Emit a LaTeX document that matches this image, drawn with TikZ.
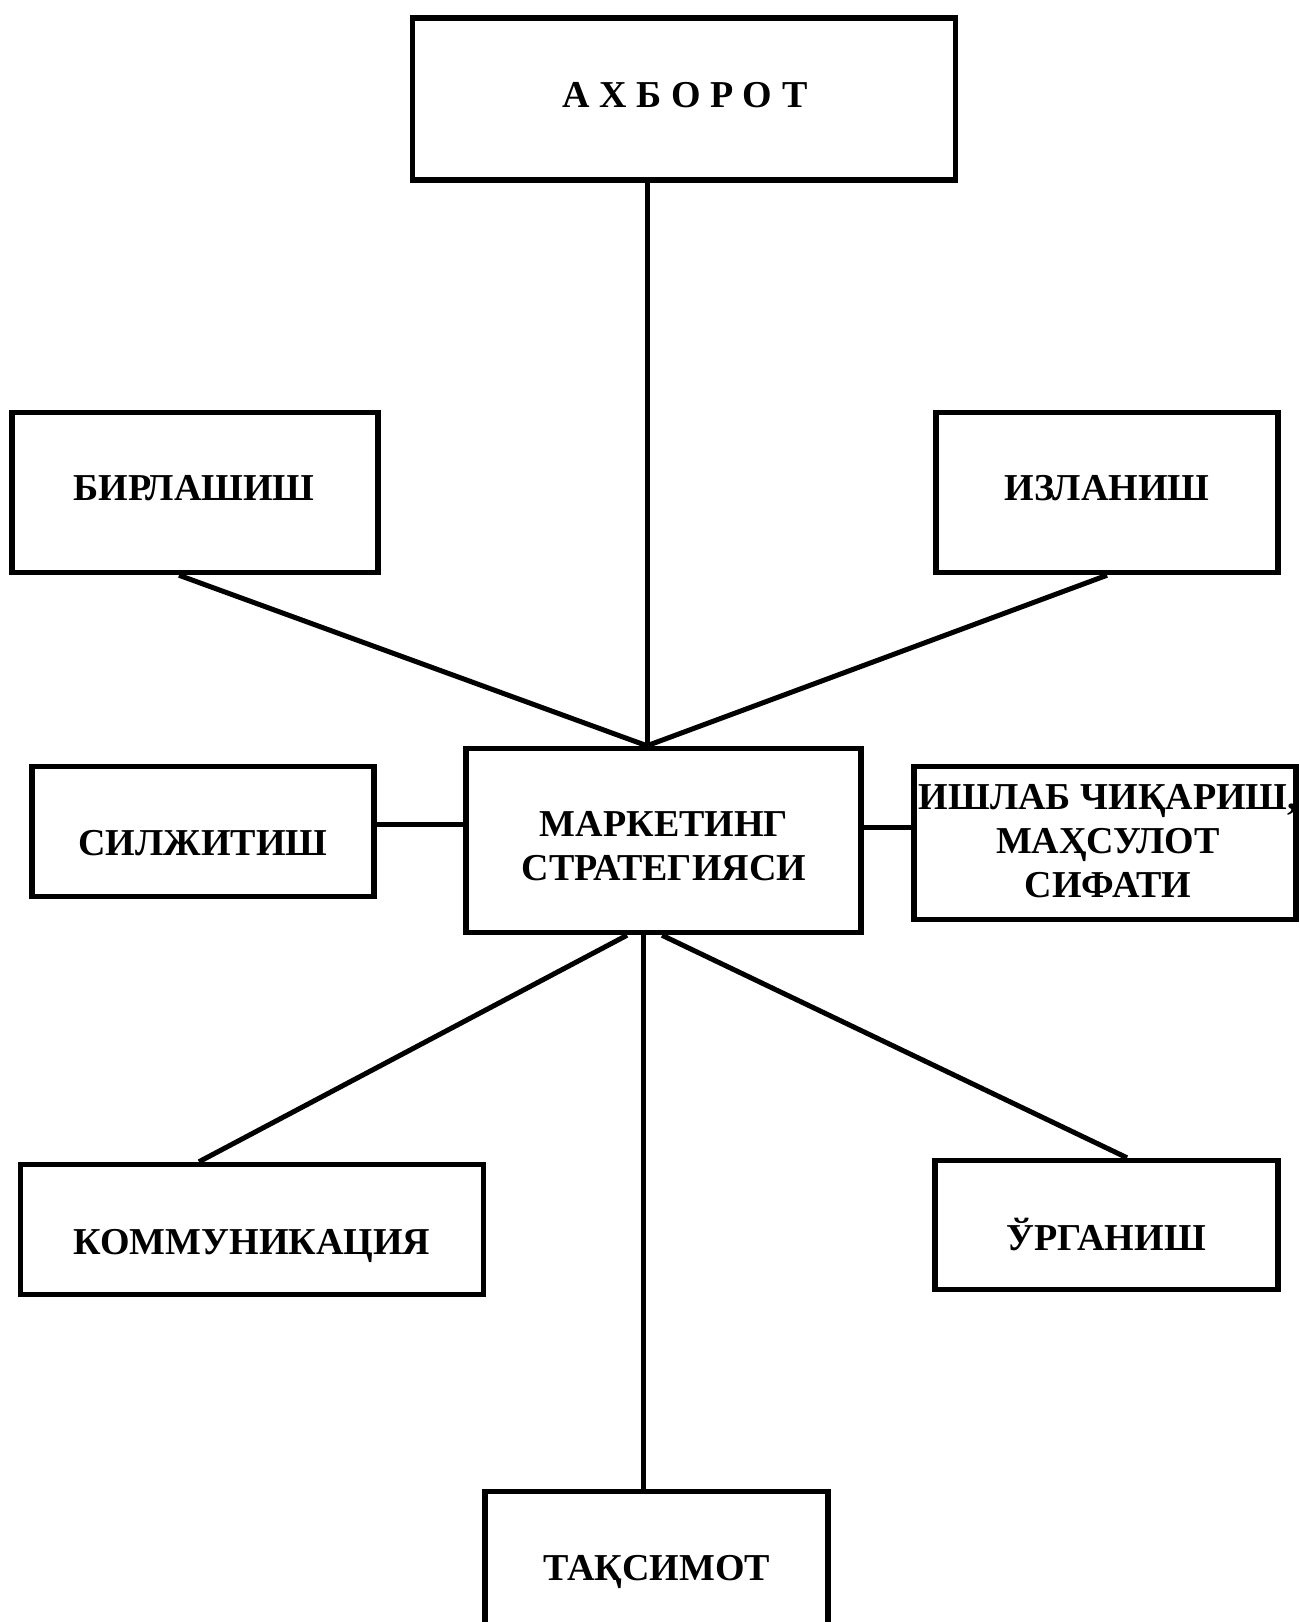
\documentclass[tikz,border=0pt]{standalone}
\usepackage{fontspec}
\setmainfont{Liberation Serif}
\usetikzlibrary{calc}
\begin{document}
\begin{tikzpicture}[x=1pt,y=-1pt,
  boxnode/.style={draw=black,line width=5.5pt,rectangle,inner sep=0pt,fill=none},
  lbl/.style={font=\fontsize{38}{44}\selectfont\bfseries,align=center,inner sep=0pt,text=black},
  conn/.style={draw=black,line width=5pt}]
\useasboundingbox (0,0) rectangle (1299,1622);
\fill[white] (0,0) rectangle (1299,1622);
\begin{scope}
\clip (0,0) rectangle (1299,1622);
% boxes
\node[boxnode,minimum width=543pt,minimum height=162pt] (ax) at (684,99) {};
\node[boxnode,minimum width=366pt,minimum height=160pt] (birl) at (195,492.5) {};
\node[boxnode,minimum width=342pt,minimum height=160pt] (izl) at (1107,492.5) {};
\node[boxnode,minimum width=395pt,minimum height=184pt] (mark) at (663.5,840.5) {};
\node[boxnode,minimum width=342pt,minimum height=130pt] (silj) at (203,831.5) {};
\node[boxnode,minimum width=382pt,minimum height=153pt] (ishl) at (1105,843) {};
\node[boxnode,minimum width=463pt,minimum height=130pt] (komm) at (252,1229.5) {};
\node[boxnode,minimum width=343pt,minimum height=129pt] (urg) at (1106.5,1225) {};
\node[boxnode,minimum width=343pt,minimum height=150pt] (taq) at (656.5,1566.5) {};
% texts
\node[lbl] (tax) at (685,95) {А Х Б О Р О Т};
\node[lbl] (tbirl) at (194,488) {БИРЛАШИШ};
\node[lbl] (tizl) at (1107,488) {ИЗЛАНИШ};
\node[lbl] (tsilj) at (203,843) {СИЛЖИТИШ};
\node[lbl] (tmark) at (664,846.5) {МАРКЕТИНГ\\СТРАТЕГИЯСИ};
\node[lbl] (tishl) at (1108,841) {ИШЛАБ ЧИҚАРИШ,\\МАҲСУЛОТ\\СИФАТИ};
\node[lbl] (tkomm) at (252,1246) {КОММУНИКАЦИЯ};
\node[lbl] (turg) at (1106,1234) {ЎРГАНИШ};
\node[lbl] (ttaq) at (657,1572) {ТАҚСИМОТ};
% connector anchor points
\coordinate (mtop) at ([xshift=-16.5pt]mark.north);
\coordinate (mbl) at ([xshift=-36.5pt]mark.south);
\coordinate (mbc) at ([xshift=-20.5pt]mark.south);
\coordinate (mbr) at ([xshift=-1.5pt]mark.south);
\coordinate (ml) at ([yshift=16.5pt]mark.west);
\coordinate (mr) at ([yshift=13.5pt]mark.east);
% connectors
\draw[conn] (mtop |- ax.south) -- (mtop);
\draw[conn] ([xshift=-16pt]birl.south) -- (mtop);
\draw[conn] (izl.south) -- (mtop);
\draw[conn] (ml -| silj.east) -- (ml);
\draw[conn] (mr) -- (mr -| ishl.west);
\draw[conn] (mbl) -- ([xshift=-53pt]komm.north);
\draw[conn] (mbc) -- (mbc |- taq.north);
\draw[conn] (mbr) -- ([xshift=20.5pt]urg.north);
\end{scope}
\end{tikzpicture}
\end{document}
